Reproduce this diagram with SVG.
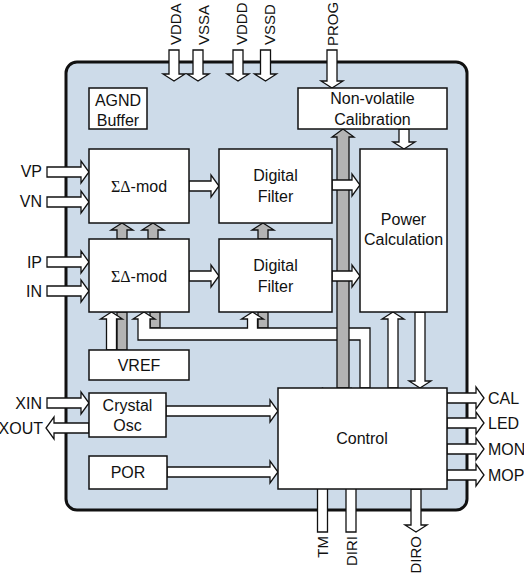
<svg xmlns="http://www.w3.org/2000/svg" width="524" height="576" viewBox="0 0 524 576">
<style>
text{font-family:"Liberation Sans",Arial,sans-serif;font-size:16px;fill:#111}
.c{text-anchor:middle}
.e{text-anchor:end}
.r{font-size:15px}
.box{fill:#fff;stroke:#111;stroke-width:1.5}
.wa{fill:#fff;stroke:#111;stroke-width:1.3;stroke-linejoin:miter}
.ga{fill:#b3b3b3;stroke:#111;stroke-width:1.3}
.sig{font-family:"Liberation Serif","Times New Roman",serif}
</style>
<rect id="chip" x="66" y="62" width="401" height="448" rx="11" fill="#cddbe9" stroke="#111" stroke-width="3"/>

<g id="connectors">
  <rect class="ga" x="117" y="312" width="10" height="38"/>
  <rect class="ga" x="150" y="312" width="10" height="16"/>
  <rect class="ga" x="258" y="312" width="10" height="16"/>
  <polygon class="wa" points="138,340 138,319 133,319 144,312 155,319 150,319 150,328 247.5,328 247.5,319 241.5,319 252.5,312 263.5,319 257.5,319 257.5,328 370,328 370,388 360,388 360,340"/>
  <polygon class="wa" points="106.5,350 106.5,319 100.5,319 111.5,312 122.5,319 116.5,319 116.5,350"/>
  <polygon class="ga" points="337,388 337,137 332,137 343,129 354,137 349,137 349,388"/>
  <polygon class="ga" points="117,239 117,230 111,230 122,223 133,230 127,230 127,239"/>
  <polygon class="ga" points="148,239 148,230 142,230 153,223 164,230 158,230 158,239"/>
  <polygon class="ga" points="258,239 258,230 252,230 263,223 274,230 268,230 268,239"/>
  <polygon class="wa" points="169,50 179,50 179,74 185,74 174,81 163,74 169,74"/>
  <polygon class="wa" points="193,50 203,50 203,74 209,74 198,81 187,74 193,74"/>
  <polygon class="wa" points="233,50 243,50 243,74 249,74 238,81 227,74 233,74"/>
  <polygon class="wa" points="260.5,50 270.5,50 270.5,74 276.5,74 265.5,81 254.5,74 260.5,74"/>
  <polygon class="wa" points="327,50 337,50 337,81 343,81 332,88 321,81 327,81"/>
  <polygon class="wa" points="47,167 81,167 81,161 89,172 81,183 81,177 47,177"/>
  <polygon class="wa" points="47,197 81,197 81,191 89,202 81,213 81,207 47,207"/>
  <polygon class="wa" points="47,257 81,257 81,251 89,262 81,273 81,267 47,267"/>
  <polygon class="wa" points="47,286 81,286 81,280 89,291 81,302 81,296 47,296"/>
  <polygon class="wa" points="47,398 81,398 81,392 89,403 81,414 81,408 47,408"/>
  <polygon class="wa" points="89,423 54,423 54,417 46,428 54,439 54,433 89,433"/>
  <polygon class="wa" points="189,181 211,181 211,175 219,186 211,197 211,191 189,191"/>
  <polygon class="wa" points="189,271 211,271 211,265 219,276 211,287 211,281 189,281"/>
  <polygon class="wa" points="332,180 352,180 352,174 360,185 352,196 352,190 332,190"/>
  <polygon class="wa" points="332,271 352,271 352,265 360,276 352,287 352,281 332,281"/>
  <polygon class="wa" points="166,406 270,406 270,400 278,411 270,422 270,416 166,416"/>
  <polygon class="wa" points="167,467 270,467 270,461 278,472 270,483 270,477 167,477"/>
  <polygon class="wa" points="399,129 409,129 409,142 415,142 404,149 393,142 399,142"/>
  <polygon class="wa" points="388,388 388,319 382,319 393,312 404,319 398,319 398,388"/>
  <polygon class="wa" points="415,312 425,312 425,381 431,381 420,388 409,381 415,381"/>
  <polygon class="wa" points="447,393 476,393 476,387 484,398 476,409 476,403 447,403"/>
  <polygon class="wa" points="447,418 476,418 476,412 484,423 476,434 476,428 447,428"/>
  <polygon class="wa" points="447,444 476,444 476,438 484,449 476,460 476,454 447,454"/>
  <polygon class="wa" points="447,470 476,470 476,464 484,475 476,486 476,480 447,480"/>
  <polygon class="wa" points="317.5,532 317.5,395 311.5,395 322.5,388 333.5,395 327.5,395 327.5,532"/>
  <polygon class="wa" points="346,532 346,395 340,395 351,388 362,395 356,395 356,532"/>
  <polygon class="wa" points="411,489 421,489 421,525 427,525 416,532 405,525 411,525"/>
</g>

<g id="agnd"><rect class="box" x="89" y="88" width="58" height="41"/><text class="c" x="118" y="106">AGND</text><text class="c" x="118" y="126">Buffer</text></g>
<g id="nvcal"><rect class="box" x="298" y="88" width="149" height="41"/><text class="c" x="372.5" y="104">Non-volatile</text><text class="c" x="372.5" y="125">Calibration</text></g>
<g id="sdmod1"><rect class="box" x="89" y="149" width="100" height="74"/><text class="c" x="139" y="192"><tspan class="sig">ΣΔ</tspan>-mod</text></g>
<g id="sdmod2"><rect class="box" x="89" y="239" width="100" height="73"/><text class="c" x="139" y="282"><tspan class="sig">ΣΔ</tspan>-mod</text></g>
<g id="df1"><rect class="box" x="219" y="149" width="113" height="74"/><text class="c" x="275.5" y="181">Digital</text><text class="c" x="275.5" y="202">Filter</text></g>
<g id="df2"><rect class="box" x="219" y="239" width="113" height="73"/><text class="c" x="275.5" y="271">Digital</text><text class="c" x="275.5" y="292">Filter</text></g>
<g id="power"><rect class="box" x="360" y="149" width="87" height="163"/><text class="c" x="403.5" y="225">Power</text><text class="c" x="403.5" y="245">Calculation</text></g>
<g id="vref"><rect class="box" x="89" y="350" width="100" height="30"/><text class="c" x="139" y="371">VREF</text></g>
<g id="xtal"><rect class="box" x="89" y="393" width="77" height="44"/><text class="c" x="127.5" y="411">Crystal</text><text class="c" x="127.5" y="431">Osc</text></g>
<g id="por"><rect class="box" x="89" y="456" width="78" height="33"/><text class="c" x="128" y="478">POR</text></g>
<g id="control"><rect class="box" x="278" y="388" width="169" height="101"/><text class="c" x="362" y="444">Control</text></g>

<g id="labels">
  <text class="r" transform="translate(181,45) rotate(-90)">VDDA</text>
  <text class="r" transform="translate(209,45) rotate(-90)">VSSA</text>
  <text class="r" transform="translate(247,45) rotate(-90)">VDDD</text>
  <text class="r" transform="translate(275,45) rotate(-90)">VSSD</text>
  <text class="r" transform="translate(338,46) rotate(-90)">PROG</text>
  <text class="e" x="42" y="177">VP</text>
  <text class="e" x="42" y="207">VN</text>
  <text class="e" x="42" y="268">IP</text>
  <text class="e" x="42" y="297">IN</text>
  <text class="e" x="42" y="409">XIN</text>
  <text class="e" x="43" y="434">XOUT</text>
  <text x="488" y="404">CAL</text>
  <text x="488" y="429">LED</text>
  <text x="488" y="455">MON</text>
  <text x="488" y="481">MOP</text>
  <text class="e r" transform="translate(328,536) rotate(-90)">TM</text>
  <text class="e r" transform="translate(357,536) rotate(-90)">DIRI</text>
  <text class="e r" transform="translate(421,536) rotate(-90)">DIRO</text>
</g>
</svg>
